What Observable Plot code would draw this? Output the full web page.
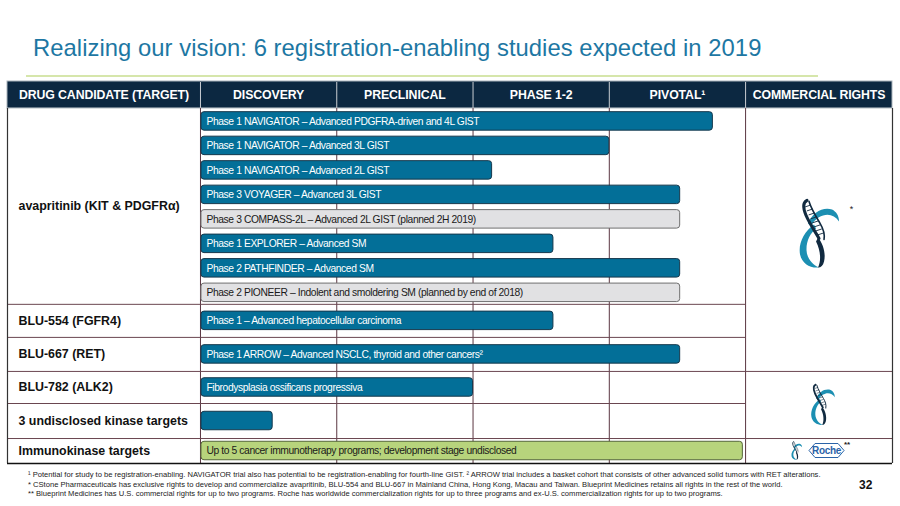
<!DOCTYPE html>
<html><head><meta charset="utf-8">
<script src="https://cdn.jsdelivr.net/npm/d3@7"></script>
<script src="https://cdn.jsdelivr.net/npm/@observablehq/plot@0.6"></script>
<style>
body{margin:0;background:#fff;font-family:"Liberation Sans",Arial,sans-serif;}
#wrap{position:relative;width:900px;height:506px;overflow:hidden;background:#fff;}
#title{position:absolute;left:33px;top:34px;font-size:23.8px;color:#1d77a3;white-space:nowrap;letter-spacing:0.05px;}
#rule{position:absolute;left:26px;top:75px;width:792px;height:2px;background:#d6e6ab;}
#chart{position:absolute;left:0;top:78px;}
#notes{position:absolute;left:28px;top:470px;font-size:7.6px;line-height:9.5px;color:#222;white-space:nowrap;}
#page{position:absolute;left:859px;top:478px;font-size:12px;font-weight:bold;color:#111;}
</style></head><body>
<div id="wrap">
<div id="title">Realizing our vision: 6 registration-enabling studies expected in 2019</div>
<div id="rule"></div>
<div id="chart"></div>
<div id="notes">
<div>¹ Potential for study to be registration-enabling. NAVIGATOR trial also has potential to be registration-enabling for fourth-line GIST. ² ARROW trial includes a basket cohort that consists of other advanced solid tumors with RET alterations.</div>
<div>* CStone Pharmaceuticals has exclusive rights to develop and commercialize avapritinib, BLU-554 and BLU-667 in Mainland China, Hong Kong, Macau and Taiwan. Blueprint Medicines retains all rights in the rest of the world.</div>
<div>** Blueprint Medicines has U.S. commercial rights for up to two programs. Roche has worldwide commercialization rights for up to three programs and ex-U.S. commercialization rights for up to two programs.</div>
</div>
<div id="page">32</div>
</div>
<script>
// ---------- data ----------
const columnHeaders = ["DRUG CANDIDATE (TARGET)", "DISCOVERY", "PRECLINICAL", "PHASE 1-2", "PIVOTAL¹", "COMMERCIAL RIGHTS"];
const phaseBoundaries = [0, 1, 2, 3, 4]; // discovery starts at 0, pivotal ends at 4
const drugs = ["avapritinib (KIT & PDGFRα)", "BLU-554 (FGFR4)", "BLU-667 (RET)", "BLU-782 (ALK2)", "3 undisclosed kinase targets", "Immunokinase targets"];
const programDrug = [0, 0, 0, 0, 0, 0, 0, 0, 1, 2, 3, 4, 5];
const programLabels = [
  "Phase 1 NAVIGATOR – Advanced PDGFRA-driven and 4L GIST",
  "Phase 1 NAVIGATOR – Advanced 3L GIST",
  "Phase 1 NAVIGATOR – Advanced 2L GIST",
  "Phase 3 VOYAGER – Advanced 3L GIST",
  "Phase 3 COMPASS-2L – Advanced 2L GIST (planned 2H 2019)",
  "Phase 1 EXPLORER – Advanced SM",
  "Phase 2 PATHFINDER – Advanced SM",
  "Phase 2 PIONEER – Indolent and smoldering SM (planned by end of 2018)",
  "Phase 1 – Advanced hepatocellular carcinoma",
  "Phase 1 ARROW – Advanced NSCLC, thyroid and other cancers²",
  "Fibrodysplasia ossificans progressiva",
  "",
  "Up to 5 cancer immunotherapy programs; development stage undisclosed"
];
const programProgress = [3.76, 3.0, 2.14, 3.52, 3.52, 2.59, 3.52, 3.52, 2.59, 3.52, 2.0, 0.53, 3.98];
const programStatus = ["ongoing", "ongoing", "ongoing", "ongoing", "planned", "ongoing", "ongoing", "planned", "ongoing", "ongoing", "ongoing", "ongoing", "undisclosed"];
const rightsGroups = [[0, 2], [3, 4], [5, 5]];
const rightsHolders = ["Blueprint Medicines", "Blueprint Medicines", "Blueprint Medicines + Roche"];
const rightsNotes = ["*", "", "**"];

// ---------- layout ----------
const xmin = -1.416, xmax = 5.078;
const headerH = 1.1;
const rowSpan = [8, 1.35, 1.39, 1.31, 1.43, 1.02];
const barH = 0.755;
const rowTop = []; let acc = headerH;
rowSpan.forEach(s => { rowTop.push(acc); acc += s; });
const total = acc;

const fillOf = {ongoing: "#036f98", planned: "#e1e1e3", undisclosed: "#b7d47c"};
const strokeOf = {ongoing: "#16384c", planned: "#707070", undisclosed: "#55663a"};
const textOf = {ongoing: "#ffffff", planned: "#1a1a1a", undisclosed: "#1a1a1a"};

const programs = programLabels.map((label, i) => {
  const d = programDrug[i];
  const n = programDrug.filter(x => x === d).length;
  const k = programDrug.slice(0, i).filter(x => x === d).length;
  const yc = n > 1 ? rowTop[d] + k + 0.53 : rowTop[d] + rowSpan[d] / 2;
  return {label, end: programProgress[i], status: programStatus[i], yc, y1: yc - barH / 2, y2: yc + barH / 2};
});

const colEdges = [xmin, ...phaseBoundaries, xmax];
const headerCells = columnHeaders.map((label, i) => ({label, cx: (colEdges[i] + colEdges[i + 1]) / 2}));
const drugRows = drugs.map((name, i) => ({name, yc: rowTop[i] + rowSpan[i] / 2}));
const groupOf = i => rightsGroups.findIndex(([a, b]) => i >= a && i <= b);
const rowLines = drugs.slice(1).map((_, i) => ({
  y: rowTop[i + 1],
  x2: groupOf(i) === groupOf(i + 1) ? 4 : xmax
}));

const plot = Plot.plot({
  width: 900, height: 390, margin: 0,
  x: {domain: [xmin, xmax], range: [7, 892], axis: null},
  y: {domain: [0, total], range: [3, 385], axis: null},
  style: {fontFamily: "'Liberation Sans', Arial, sans-serif", background: "transparent", overflow: "visible"},
  marks: [
    Plot.rect([0], {x1: xmin, x2: xmax, y1: 0, y2: headerH, fill: "#0c2841", stroke: "#a9b3bb", strokeWidth: 1}),
    Plot.ruleX(phaseBoundaries, {x: d => d, y1: 0.04, y2: headerH, stroke: "#c9cdd2", strokeWidth: 1}),
    Plot.text(headerCells, {x: "cx", y: headerH / 2, text: "label", fill: "white", fontWeight: "bold", fontSize: 12.3}),
    Plot.ruleX(phaseBoundaries, {x: d => d, y1: headerH, y2: total, stroke: "#5a3641", strokeWidth: 1}),
    Plot.ruleY(rowLines, {y: "y", x1: xmin, x2: "x2", stroke: "#6a4650", strokeWidth: 1}),
    Plot.ruleX([xmin, xmax], {x: d => d, y1: headerH, y2: total, stroke: "#333", strokeWidth: 1.2}),
    Plot.ruleY([total], {x1: xmin, x2: xmax, stroke: "#111", strokeWidth: 1.6}),
    Plot.rect(programs, {x1: 0, x2: "end", y1: "y1", y2: "y2", insetLeft: 1,
      fill: d => fillOf[d.status], stroke: d => strokeOf[d.status], strokeWidth: 1, rx: 3}),
    Plot.text(programs, {x: 0, y: "yc", dx: 6, text: "label", textAnchor: "start",
      fill: d => textOf[d.status], fontSize: 10.3}),
    Plot.text(drugRows, {x: xmin, y: "yc", dx: 11, text: "name", textAnchor: "start",
      fontWeight: "bold", fontSize: 12.4, fill: "#111"})
  ]
});
document.getElementById("chart").appendChild(plot);
const svg = d3.select(plot);
// condensed look of the bar labels
svg.selectAll("text").filter(function () { return programLabels.includes(this.textContent) && this.textContent; })
  .style("letter-spacing", "-0.4px");
svg.selectAll("text").filter(function () { return columnHeaders.includes(this.textContent); })
  .style("letter-spacing", "-0.1px");

// ---------- commercial-rights logos ----------
const sx = plot.scale("x"), sy = plot.scale("y");
function blueprintLogo(cx, cy, s) {
  const g = svg.append("g").attr("transform", `translate(${cx - 20.5 * s},${cy - 34 * s}) scale(${s})`);
  const teal = "#1c8fb2", dark = "#112a40";
  g.append("path").attr("fill", teal)
    .attr("d", "M10,24 C14,13 25,7 34,10 C38,12 41,16 41,22 C37,16 31,14 25,16 C19,18 15,22 13,27 Z");
  g.append("path").attr("fill", teal)
    .attr("d", "M16,25 C6,32 0,44 2,55 C4,64 12,69 21,68 C14,65 9,59 8.5,51 C8,42 12,34 18,29 Z");
  g.append("path").attr("fill", "none").attr("stroke", dark).attr("stroke-width", 3).attr("stroke-linecap", "round")
    .attr("d", "M9,1 C5,3 5,9 8,16 C12,25 17,32 21,39");
  g.append("path").attr("fill", "none").attr("stroke", dark).attr("stroke-width", 1.6).attr("stroke-linecap", "round")
    .attr("d", "M11,2 C13,9 18,17 22,24 C25,29 27,34 26,40");
  for (let t = 0; t < 8; t++) {
    const y = 7 + t * 4, x0 = 7 + t * 1.8;
    g.append("line").attr("x1", x0).attr("y1", y + 0.5).attr("x2", x0 + 6).attr("y2", y - 1.5)
      .attr("stroke", dark).attr("stroke-width", 0.9);
  }
  g.append("path").attr("fill", dark)
    .attr("d", "M20,38 C25,44 28,54 26,62 C25,66 23,68 20,68 C23,62 23,52 18,42 Z");
  return g;
}
const rightsCx = sx.apply((4 + xmax) / 2);
rightsGroups.forEach(([a, b], i) => {
  const cy = sy.apply((rowTop[a] + rowTop[b] + rowSpan[b]) / 2);
  if (rightsHolders[i].includes("Roche")) {
    blueprintLogo(rightsCx - 22, cy, 0.27);
    const hx = rightsCx + 8, hw = 35, hh = 14;
    svg.append("polygon")
      .attr("points", [[hx - hw / 2, cy], [hx - hw / 2 + 6, cy - hh / 2], [hx + hw / 2 - 6, cy - hh / 2], [hx + hw / 2, cy], [hx + hw / 2 - 6, cy + hh / 2], [hx - hw / 2 + 6, cy + hh / 2]].map(p => p.join(",")).join(" "))
      .attr("fill", "white").attr("stroke", "#2a63a8").attr("stroke-width", 1);
    svg.append("text").attr("x", hx).attr("y", cy + 3.6).attr("text-anchor", "middle")
      .attr("font-size", 10).attr("font-weight", "bold").attr("fill", "#2a63a8").attr("letter-spacing", "-0.3px")
      .attr("font-family", "'Liberation Sans Narrow','Liberation Sans',Arial,sans-serif").text("Roche");
    svg.append("text").attr("x", hx + hw / 2 + 3).attr("y", cy - 4).attr("font-size", 8).attr("font-weight", "bold").attr("fill", "#222").text(rightsNotes[i]);
  } else if (i === 0) {
    blueprintLogo(rightsCx, cy - 6, 1.0);
    svg.append("text").attr("x", rightsCx + 33).attr("y", cy - 27).attr("font-size", 9).attr("fill", "#222").text(rightsNotes[i]);
  } else {
    blueprintLogo(rightsCx + 4, cy, 0.6);
  }
});
</script>
</body></html>
